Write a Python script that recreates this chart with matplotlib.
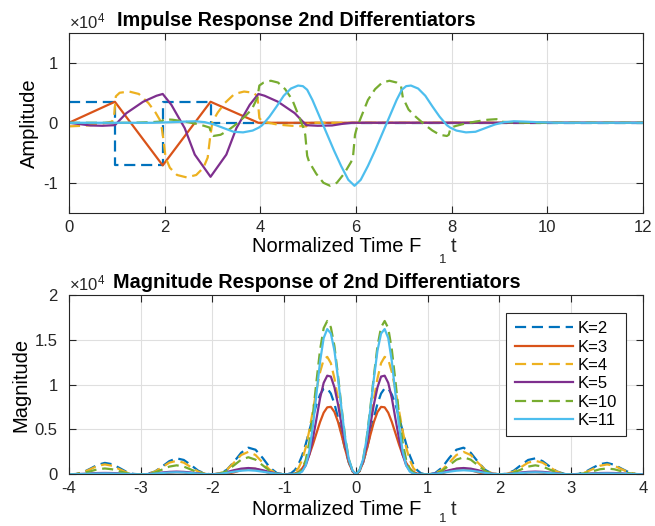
import matplotlib
matplotlib.use("Agg")
import matplotlib.pyplot as plt
from matplotlib.ticker import FixedLocator, FuncFormatter

plt.rcParams['font.family'] = ['Liberation Sans', 'DejaVu Sans']
plt.rcParams['mathtext.fontset'] = 'custom'
plt.rcParams['mathtext.rm'] = 'Liberation Sans'
plt.rcParams['mathtext.default'] = 'regular'

# ---------------- data: impulse responses (amplitude in units of 1e4) ----------------
t_k2 = [0.0, 0.96, 0.96, 1.96, 1.96, 2.96, 2.96, 12.0]
amp_k2 = [0.35, 0.35, -0.70, -0.70, 0.35, 0.35, 0.0, 0.0]

t_k3 = [0.0, 0.96, 1.96, 2.96, 3.96, 12.0]
amp_k3 = [0.0, 0.35, -0.71, 0.35, 0.0, 0.0]

t_k4 = [0.0, 0.3, 0.6, 0.9, 0.94, 0.98, 1.06, 1.26, 1.46, 1.66, 1.81, 1.92, 1.97, 2.02, 2.11,
        2.26, 2.46, 2.66, 2.81, 2.90, 2.95, 3.00, 3.11, 3.26, 3.46, 3.66, 3.86, 3.94, 3.98,
        4.04, 4.36, 4.66, 4.96, 5.02, 12.0]
amp_k4 = [-0.06, -0.05, -0.03, 0.02, 0.08, 0.44, 0.50, 0.52, 0.48, 0.33, 0.17, 0.02, -0.25,
          -0.58, -0.75, -0.87, -0.91, -0.87, -0.75, -0.58, -0.25, 0.02, 0.17, 0.33, 0.48,
          0.52, 0.50, 0.44, 0.08, 0.02, -0.03, -0.05, -0.06, 0.0, 0.0]

t_k5 = [0.0, 0.2, 0.45, 0.7, 0.96, 1.2, 1.55, 1.83, 1.96, 2.14, 2.42, 2.63, 2.96, 3.29, 3.50,
        3.78, 3.96, 4.09, 4.37, 4.72, 4.96, 5.2, 5.5, 5.7, 5.92, 12.0]
amp_k5 = [0.0, -0.02, -0.045, -0.05, -0.04, 0.16, 0.35, 0.45, 0.48, 0.30, -0.09, -0.53, -0.90,
          -0.53, -0.09, 0.30, 0.48, 0.45, 0.35, 0.16, -0.04, -0.05, -0.045, -0.02, 0.0, 0.0]

t_k10 = [0.0, 1.3, 1.7, 1.94, 1.98, 2.17, 2.42, 2.62, 2.82, 2.94, 2.98, 3.02, 3.17, 3.32, 3.47,
         3.67, 3.82, 3.94, 3.98, 4.07, 4.22, 4.37, 4.52, 4.67, 4.82, 4.90, 4.94, 4.98, 5.02,
         5.17, 5.32, 5.46, 5.60, 5.75, 5.90, 5.94, 5.98, 6.02, 6.10, 6.25, 6.40, 6.55, 6.70,
         6.85, 6.94, 6.98, 7.10, 7.25, 7.45, 7.60, 7.75, 7.90, 7.94, 7.98, 8.10, 8.30, 8.50,
         8.75, 8.94, 8.98, 9.20, 9.60, 12.0]
amp_k10 = [0.0, 0.0, 0.01, 0.02, 0.06, 0.05, 0.02, -0.01, -0.05, -0.08, -0.20, -0.22, -0.20,
           -0.13, -0.04, 0.10, 0.22, 0.42, 0.62, 0.67, 0.70, 0.67, 0.56, 0.38, 0.08, -0.08,
           -0.20, -0.55, -0.65, -0.85, -1.0, -1.05, -1.0, -0.85, -0.65, -0.55, -0.20, -0.08,
           0.08, 0.38, 0.56, 0.67, 0.70, 0.67, 0.62, 0.42, 0.22, 0.10, -0.04, -0.13, -0.20,
           -0.22, -0.20, -0.08, -0.05, -0.01, 0.02, 0.05, 0.06, 0.02, 0.01, 0.0, 0.0]

t_k11 = [0.0, 1.74, 2.14, 2.44, 2.64, 2.84, 3.04, 3.24, 3.44, 3.64, 3.84, 3.97, 4.04, 4.19,
         4.34, 4.49, 4.64, 4.79, 4.89, 4.98, 5.09, 5.24, 5.39, 5.54, 5.69, 5.84, 5.97, 6.10,
         6.25, 6.40, 6.55, 6.70, 6.85, 6.96, 7.05, 7.15, 7.30, 7.45, 7.60, 7.75, 7.90, 7.97,
         8.10, 8.30, 8.50, 8.70, 8.90, 9.10, 9.30, 9.50, 9.80, 10.2, 12.0]
amp_k11 = [0.0, 0.0, 0.01, 0.02, 0.025, 0.01, -0.03, -0.09, -0.15, -0.16, -0.13, -0.08, -0.04,
           0.10, 0.27, 0.45, 0.57, 0.62, 0.61, 0.55, 0.38, 0.10, -0.18, -0.46, -0.72, -0.95,
           -1.05, -0.95, -0.72, -0.46, -0.18, 0.10, 0.38, 0.55, 0.61, 0.62, 0.57, 0.45, 0.27,
           0.10, -0.04, -0.08, -0.13, -0.16, -0.15, -0.09, -0.03, 0.01, 0.025, 0.02, 0.01,
           0.0, 0.0]

# ---------------- data: magnitude responses (units of 1e4) ----------------
freq = [-4.0, -3.9, -3.8, -3.7, -3.6, -3.5, -3.4, -3.3, -3.2, -3.1,
        -3.0, -2.9, -2.8, -2.7, -2.6, -2.5, -2.4, -2.3, -2.2, -2.1,
        -2.0, -1.9, -1.8, -1.7, -1.6, -1.5, -1.4, -1.3, -1.2, -1.1,
        -1.0, -0.95, -0.9, -0.85, -0.8, -0.75, -0.7, -0.65, -0.6, -0.55,
        -0.5, -0.45, -0.4, -0.35, -0.3, -0.25, -0.2, -0.15, -0.1, -0.05,
        0.0,
        0.05, 0.1, 0.15, 0.2, 0.25, 0.3, 0.35, 0.4, 0.45, 0.5,
        0.55, 0.6, 0.65, 0.7, 0.75, 0.8, 0.85, 0.9, 0.95, 1.0,
        1.1, 1.2, 1.3, 1.4, 1.5, 1.6, 1.7, 1.8, 1.9, 2.0,
        2.1, 2.2, 2.3, 2.4, 2.5, 2.6, 2.7, 2.8, 2.9, 3.0,
        3.1, 3.2, 3.3, 3.4, 3.5, 3.6, 3.7, 3.8, 3.9, 4.0]

mag_k2 = [0.0, 0.003, 0.024, 0.064, 0.106, 0.127, 0.113, 0.072, 0.028, 0.004,
          0.0, 0.005, 0.032, 0.087, 0.147, 0.178, 0.160, 0.103, 0.041, 0.006,
          0.0, 0.007, 0.050, 0.139, 0.240, 0.297, 0.274, 0.182, 0.075, 0.012,
          0.0, 0.002, 0.015, 0.049, 0.113, 0.210, 0.337, 0.485, 0.639, 0.781,
          0.891, 0.954, 0.958, 0.901, 0.787, 0.630, 0.452, 0.278, 0.131, 0.034,
          0.0,
          0.034, 0.131, 0.278, 0.452, 0.630, 0.787, 0.901, 0.958, 0.954, 0.891,
          0.781, 0.639, 0.485, 0.337, 0.210, 0.113, 0.049, 0.015, 0.002, 0.0,
          0.012, 0.075, 0.182, 0.274, 0.297, 0.240, 0.139, 0.050, 0.007, 0.0,
          0.006, 0.041, 0.103, 0.160, 0.178, 0.147, 0.087, 0.032, 0.005, 0.0,
          0.004, 0.028, 0.072, 0.113, 0.127, 0.106, 0.064, 0.024, 0.003, 0.0]

mag_k3 = [0.0, 0.0, 0.001, 0.004, 0.009, 0.012, 0.010, 0.006, 0.002, 0.0,
          0.0, 0.0, 0.002, 0.008, 0.018, 0.023, 0.021, 0.011, 0.003, 0.0,
          0.0, 0.0, 0.005, 0.022, 0.046, 0.065, 0.061, 0.037, 0.012, 0.001,
          0.0, 0.0, 0.002, 0.008, 0.027, 0.065, 0.128, 0.218, 0.332, 0.459,
          0.584, 0.687, 0.747, 0.752, 0.695, 0.584, 0.436, 0.276, 0.133, 0.035,
          0.0,
          0.035, 0.133, 0.276, 0.436, 0.584, 0.695, 0.752, 0.747, 0.687, 0.584,
          0.459, 0.332, 0.218, 0.128, 0.065, 0.027, 0.008, 0.002, 0.0, 0.0,
          0.001, 0.012, 0.037, 0.061, 0.065, 0.046, 0.022, 0.005, 0.0, 0.0,
          0.0, 0.003, 0.011, 0.021, 0.023, 0.018, 0.008, 0.002, 0.0, 0.0,
          0.0, 0.002, 0.006, 0.010, 0.012, 0.009, 0.004, 0.001, 0.0, 0.0]

mag_k4 = [0.0, 0.003, 0.022, 0.058, 0.095, 0.11, 0.095, 0.058, 0.022, 0.003,
          0.0, 0.005, 0.03, 0.08, 0.13, 0.15, 0.13, 0.08, 0.03, 0.005,
          0.0, 0.01, 0.05, 0.13, 0.215, 0.25, 0.215, 0.13, 0.05, 0.01,
          0.0, 0.001, 0.006, 0.025, 0.07, 0.16, 0.30, 0.49, 0.71, 0.94,
          1.14, 1.28, 1.31, 1.24, 1.07, 0.84, 0.58, 0.34, 0.15, 0.04,
          0.0,
          0.04, 0.15, 0.34, 0.58, 0.84, 1.07, 1.24, 1.31, 1.28, 1.14,
          0.94, 0.71, 0.49, 0.30, 0.16, 0.07, 0.025, 0.006, 0.001, 0.0,
          0.01, 0.05, 0.13, 0.215, 0.25, 0.215, 0.13, 0.05, 0.01, 0.0,
          0.005, 0.03, 0.08, 0.13, 0.15, 0.13, 0.08, 0.03, 0.005, 0.0,
          0.003, 0.022, 0.058, 0.095, 0.11, 0.095, 0.058, 0.022, 0.003, 0.0]

mag_k5 = [0.0, 0.002, 0.005, 0.01, 0.014, 0.015, 0.014, 0.01, 0.005, 0.002,
          0.0, 0.003, 0.011, 0.02, 0.027, 0.03, 0.027, 0.02, 0.011, 0.003,
          0.0, 0.007, 0.025, 0.046, 0.063, 0.07, 0.063, 0.046, 0.025, 0.007,
          0.0, 0.0, 0.001, 0.003, 0.012, 0.04, 0.10, 0.22, 0.40, 0.62,
          0.85, 1.02, 1.10, 1.09, 0.97, 0.78, 0.55, 0.33, 0.15, 0.04,
          0.0,
          0.04, 0.15, 0.33, 0.55, 0.78, 0.97, 1.09, 1.10, 1.02, 0.85,
          0.62, 0.40, 0.22, 0.10, 0.04, 0.012, 0.003, 0.001, 0.0, 0.0,
          0.007, 0.025, 0.046, 0.063, 0.07, 0.063, 0.046, 0.025, 0.007, 0.0,
          0.003, 0.011, 0.02, 0.027, 0.03, 0.027, 0.02, 0.011, 0.003, 0.0,
          0.002, 0.005, 0.01, 0.014, 0.015, 0.014, 0.01, 0.005, 0.002, 0.0]

mag_k10 = [0.0, 0.002, 0.013, 0.034, 0.056, 0.065, 0.056, 0.034, 0.013, 0.002,
           0.0, 0.003, 0.02, 0.053, 0.086, 0.10, 0.086, 0.053, 0.02, 0.003,
           0.0, 0.006, 0.038, 0.10, 0.163, 0.19, 0.163, 0.10, 0.038, 0.006,
           0.0, 0.0, 0.001, 0.005, 0.02, 0.06, 0.16, 0.36, 0.67, 1.04,
           1.39, 1.63, 1.71, 1.64, 1.43, 1.10, 0.74, 0.41, 0.17, 0.045,
           0.0,
           0.045, 0.17, 0.41, 0.74, 1.10, 1.43, 1.64, 1.71, 1.63, 1.39,
           1.04, 0.67, 0.36, 0.16, 0.06, 0.02, 0.005, 0.001, 0.0, 0.0,
           0.006, 0.038, 0.10, 0.163, 0.19, 0.163, 0.10, 0.038, 0.006, 0.0,
           0.003, 0.02, 0.053, 0.086, 0.10, 0.086, 0.053, 0.02, 0.003, 0.0,
           0.002, 0.013, 0.034, 0.056, 0.065, 0.056, 0.034, 0.013, 0.002, 0.0]

mag_k11 = [0.0, 0.001, 0.004, 0.007, 0.009, 0.01, 0.009, 0.007, 0.004, 0.001,
           0.0, 0.002, 0.008, 0.014, 0.02, 0.022, 0.02, 0.014, 0.008, 0.002,
           0.0, 0.005, 0.016, 0.029, 0.04, 0.045, 0.04, 0.029, 0.016, 0.005,
           0.0, 0.0, 0.0, 0.002, 0.008, 0.03, 0.10, 0.26, 0.54, 0.90,
           1.26, 1.52, 1.62, 1.57, 1.38, 1.07, 0.72, 0.40, 0.17, 0.045,
           0.0,
           0.045, 0.17, 0.40, 0.72, 1.07, 1.38, 1.57, 1.62, 1.52, 1.26,
           0.90, 0.54, 0.26, 0.10, 0.03, 0.008, 0.002, 0.0, 0.0, 0.0,
           0.005, 0.016, 0.029, 0.04, 0.045, 0.04, 0.029, 0.016, 0.005, 0.0,
           0.002, 0.008, 0.014, 0.02, 0.022, 0.02, 0.014, 0.008, 0.002, 0.0,
           0.001, 0.004, 0.007, 0.009, 0.01, 0.009, 0.007, 0.004, 0.001, 0.0]

labels = ['K=2', 'K=3', 'K=4', 'K=5', 'K=10', 'K=11']
colors = ['#0072BD', '#D95319', '#EDB120', '#7E2F8E', '#77AC30', '#4DBEEE']
dashed = [True, False, True, False, True, False]

imp_t = [t_k2, t_k3, t_k4, t_k5, t_k10, t_k11]
imp_a = [amp_k2, amp_k3, amp_k4, amp_k5, amp_k10, amp_k11]
mags = [mag_k2, mag_k3, mag_k4, mag_k5, mag_k10, mag_k11]

W, H = 655, 526
fig = plt.figure(figsize=(W / 100, H / 100), dpi=100)
ax1 = fig.add_axes([0.1053, 0.5954, 0.8763, 0.3424])
ax2 = fig.add_axes([0.1053, 0.0983, 0.8763, 0.3409])

axis_col = '#262626'
grid_col = '#dfdfdf'
lab_fs = 14.5


def style(ax):
    ax.grid(True, color=grid_col, linewidth=0.8)
    ax.set_axisbelow(True)
    for s in ax.spines.values():
        s.set_color(axis_col)
        s.set_linewidth(0.8)
    ax.tick_params(direction='in', top=True, right=True, length=5, width=0.8,
                   colors=axis_col, labelsize=12, labelcolor='#262626')
    ax.tick_params(axis='x', pad=5)
    ax.tick_params(axis='y', pad=8)


def time_label(ax, base_px, ax_bottom_px, ax_h_px, sub_base_px):
    # main text of the x label, the lowered "1" and the trailing "t"
    ax.set_xlabel('Normalized Time F', fontsize=lab_fs)
    ax.xaxis.label.set_va('baseline')
    ax.xaxis.set_label_coords((337 - 69) / 574, -(base_px - ax_bottom_px) / ax_h_px)
    fig.text(451 / W, 1 - base_px / H, 't', fontsize=lab_fs, ha='left', va='baseline',
             color='#262626')
    fig.text(443 / W, 1 - sub_base_px / H, '1', fontsize=9.5, ha='center', va='baseline',
             color='#262626')


for t, a, c, d, lab in zip(imp_t, imp_a, colors, dashed, labels):
    ln, = ax1.plot(t, a, color=c, lw=1.6, label=lab)
    if d:
        ln.set_dashes((5, 2.6))

ax1.set_xlim(0, 12)
ax1.set_ylim(-1.5, 1.5)
ax1.xaxis.set_major_locator(FixedLocator([0, 2, 4, 6, 8, 10, 12]))
ax1.yaxis.set_major_locator(FixedLocator([-1, 0, 1]))
ax1.yaxis.set_major_formatter(FuncFormatter(lambda v, p: '%g' % v))
style(ax1)
ax1.set_title('Impulse Response 2nd Differentiators', fontsize=14.3, fontweight='bold',
              x=(117 - 69) / 574, ha='left', pad=5)
time_label(ax1, 252, 212.8, 180.1, 263)
ax1.set_ylabel('Amplitude', fontsize=lab_fs, labelpad=3)
ax1.text(0.0, 1.01, '$\\times$10$^{4}$', transform=ax1.transAxes, fontsize=12,
         ha='left', va='bottom', color='#262626')

for m, c, d, lab in zip(mags, colors, dashed, labels):
    ln, = ax2.plot(freq, m, color=c, lw=1.6, label=lab)
    if d:
        ln.set_dashes((5, 2.6))

ax2.set_xlim(-4, 4)
ax2.set_ylim(0, 2)
ax2.xaxis.set_major_locator(FixedLocator([-4, -3, -2, -1, 0, 1, 2, 3, 4]))
ax2.yaxis.set_major_locator(FixedLocator([0, 0.5, 1, 1.5, 2]))
ax2.yaxis.set_major_formatter(FuncFormatter(lambda v, p: '%g' % v))
ax2.xaxis.set_major_formatter(FuncFormatter(lambda v, p: '%g' % v))
style(ax2)
ax2.set_title('Magnitude Response of 2nd Differentiators', fontsize=14.3, fontweight='bold',
              x=(113 - 69) / 574, ha='left', pad=5)
time_label(ax2, 515, 474.3, 179.3, 522)
ax2.set_ylabel('Magnitude', fontsize=lab_fs, labelpad=3)
ax2.text(0.0, 1.01, '$\\times$10$^{4}$', transform=ax2.transAxes, fontsize=12,
         ha='left', va='bottom', color='#262626')

leg = ax2.legend(loc='upper right', bbox_to_anchor=(0.970, 0.8996), borderaxespad=0,
                 fontsize=12, handlelength=3.5, labelspacing=0.2, handletextpad=0.3,
                 borderpad=0.5, fancybox=False, framealpha=1, edgecolor=axis_col)
leg.get_frame().set_linewidth(0.8)

fig.savefig('out.png', dpi=100)
